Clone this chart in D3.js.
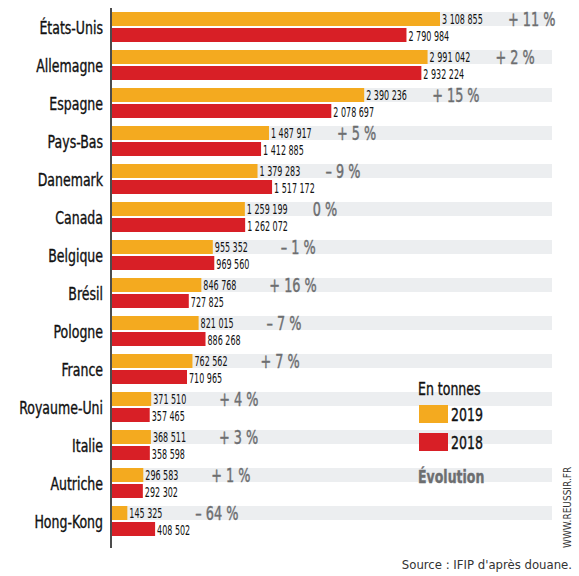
<!DOCTYPE html><html><head><meta charset="utf-8">
<script src="https://cdn.jsdelivr.net/npm/d3@7"></script>
<style>body{margin:0;background:#fff}text{font-family:"DejaVu Sans Condensed","Roboto",sans-serif}</style></head><body>
<svg id="c" width="579" height="576"></svg>
<script>
const countries=["États-Unis","Allemagne","Espagne","Pays-Bas","Danemark","Canada","Belgique","Brésil","Pologne","France","Royaume-Uni","Italie","Autriche","Hong-Kong"];
const v2019=[3108855,2991042,2390236,1487917,1379283,1259199,955352,846768,821015,762562,371510,368511,296583,145325];
const v2018=[2790984,2932224,2078697,1412885,1517172,1262072,969560,727825,886268,710965,357465,358598,292302,408502];
const evol=["+ 11 %","+ 2 %","+ 15 %","+ 5 %","– 9 %","0 %","– 1 %","+ 16 %","– 7 %","+ 7 %","+ 4 %","+ 3 %","+ 1 %","– 64 %"];
const svg=d3.select("#c");
const x=d3.scaleLinear().domain([0,3108855]).range([112,440]);
const y=d3.scaleBand().domain(countries).range([11,543]).paddingInner(0);
const fmt=n=>String(n).replace(/\B(?=(\d{3})+(?!\d))/g," ");
function T(sel,fx,fy,sx){return sel.append("text").attr("transform",(c,i)=>`translate(${fx(c,i)},${fy(c,i)}) scale(${sx},1)`);}
const g=svg.selectAll("g.r").data(countries).join("g");
g.append("rect").attr("x",112).attr("width",440).attr("y",c=>y(c)+1).attr("height",14).attr("fill","#eceef0");
g.append("rect").attr("x",112).attr("y",c=>y(c)+1).attr("height",14).attr("width",(c,i)=>x(v2019[i])-112).attr("fill","#f4aa1f");
g.append("rect").attr("x",112).attr("y",c=>y(c)+17).attr("height",14).attr("width",(c,i)=>x(v2018[i])-112).attr("fill","#d81f26");
T(g,c=>103,c=>y(c)+23,0.82).attr("text-anchor","end").attr("font-size",17).attr("stroke","#111").attr("stroke-width",0.35).attr("fill","#111").text(c=>c);
T(g,(c,i)=>x(v2019[i])+2,c=>y(c)+13,0.66).attr("font-size",13.5).attr("fill","#111").text((c,i)=>fmt(v2019[i]));
T(g,(c,i)=>x(v2018[i])+2,c=>y(c)+30,0.66).attr("font-size",13.5).attr("fill","#111").text((c,i)=>fmt(v2018[i]));
T(g,(c,i)=>x(v2019[i])+68,c=>y(c)+15,0.75).attr("font-size",19).attr("fill","#6d6e70").attr("stroke","#6d6e70").attr("stroke-width",0.4).text((c,i)=>evol[i]);
svg.append("line").attr("x1",111).attr("x2",111).attr("y1",8).attr("y2",548).attr("stroke","#111").attr("stroke-width",1.5);
const L=(xx,yy,s,t,fill,w)=>svg.append("text").attr("transform",`translate(${xx},${yy}) scale(0.82,1)`).attr("font-size",s).attr("font-weight",w||"normal").attr("fill",fill).attr("stroke",fill).attr("stroke-width",0.35).text(t);
L(418,395,17,"En tonnes","#111");
svg.append("rect").attr("x",419).attr("y",405).attr("width",29).attr("height",18).attr("fill","#f4aa1f");
svg.append("rect").attr("x",419).attr("y",433).attr("width",29).attr("height",18).attr("fill","#d81f26");
L(451,421,17,"2019","#111");
L(451,449,17,"2018","#111");
L(418,483,17,"Évolution","#6d6e70","bold");
svg.append("text").attr("transform","translate(571,548) rotate(-90)").attr("font-size",10).attr("fill","#333").text("WWW.REUSSIR.FR");
svg.append("text").attr("x",572).attr("y",569).attr("text-anchor","end").attr("font-size",13).attr("fill","#333").text("Source :  IFIP d'après douane.");
</script></body></html>
